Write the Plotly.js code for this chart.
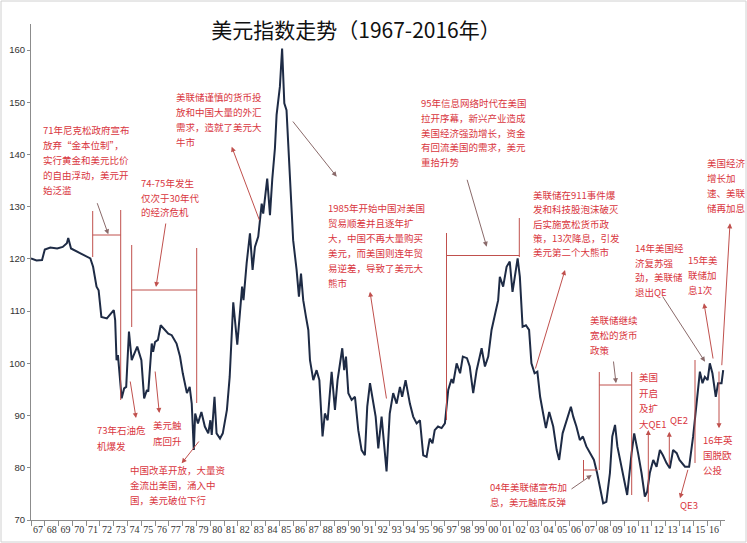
<!DOCTYPE html>
<html>
<head>
<meta charset="utf-8">
<script src="https://cdn.plot.ly/plotly-3.0.1.min.js"></script>
<style>html,body{margin:0;padding:0;background:#fff;}#chart{width:747px;height:543px;}</style>
</head>
<body>
<div id="chart"></div>
<script>
// ---- data ----
const years = [1967.0,1967.4,1967.8,1968.0,1968.4,1968.9,1969.3,1969.6,1969.7,1969.9,1970.55,1971.3,1971.5,1971.75,1971.9,1972.1,1972.5,1973.0,1973.1,1973.2,1973.3,1973.57,1973.75,1973.9,1974.1,1974.3,1974.4,1974.7,1975.0,1975.2,1975.4,1975.5,1975.75,1975.85,1975.99,1976.2,1976.4,1976.7,1976.95,1977.2,1977.55,1977.8,1978.0,1978.3,1978.5,1978.65,1978.8,1978.9,1979.1,1979.35,1979.6,1979.85,1980.0,1980.1,1980.3,1980.45,1980.7,1980.9,1981.2,1981.4,1981.66,1981.95,1982.3,1982.4,1982.63,1982.87,1983.06,1983.23,1983.47,1983.72,1983.83,1984.12,1984.32,1984.49,1984.68,1984.8,1985.04,1985.2,1985.36,1985.52,1985.72,1986.0,1986.25,1986.42,1986.57,1986.73,1986.93,1987.1,1987.22,1987.46,1987.7,1987.9,1988.13,1988.3,1988.5,1988.79,1989.03,1989.22,1989.56,1989.7,1989.83,1990.0,1990.24,1990.48,1990.72,1990.96,1991.2,1991.37,1991.57,1991.76,1991.98,1992.17,1992.41,1992.77,1993.0,1993.25,1993.5,1993.74,1993.9,1994.15,1994.46,1994.7,1994.95,1995.19,1995.43,1995.67,1995.9,1996.1,1996.26,1996.5,1996.76,1997.0,1997.24,1997.48,1997.6,1997.85,1998.1,1998.3,1998.6,1998.8,1999.05,1999.3,1999.66,1999.9,2000.14,2000.38,2000.6,2000.86,2000.98,2001.22,2001.47,2001.7,2001.9,2002.07,2002.27,2002.43,2002.63,2002.87,2003.1,2003.27,2003.5,2003.7,2003.9,2004.12,2004.32,2004.56,2004.85,2005.1,2005.28,2005.53,2005.77,2005.94,2006.13,2006.3,2006.53,2006.78,2007.0,2007.25,2007.55,2007.8,2008.03,2008.23,2008.47,2008.7,2008.96,2009.13,2009.33,2009.5,2009.8,2010.04,2010.21,2010.53,2010.72,2011.0,2011.25,2011.49,2011.66,2011.85,2012.1,2012.34,2012.58,2012.8,2013.06,2013.3,2013.54,2013.8,2014.0,2014.4,2014.7,2014.99,2015.24,2015.48,2015.67,2015.84,2016.04,2016.2,2016.39,2016.63,2016.8,2017.05,2017.17];
const dxy = [120.1,119.7,119.8,121.8,122.2,122.0,122.3,123.0,124.0,122.0,121.1,120.1,118.5,114.7,114.0,108.9,108.6,110.2,108.3,100.6,101.6,93.3,95.2,95.5,106.1,100.6,101.3,103.2,100.6,93.3,94.9,94.6,103.8,102.2,104.1,104.5,107.3,106.4,105.7,105.4,103.8,101.3,98.1,94.3,95.5,92.3,83.4,90.4,88.5,90.7,87.9,86.6,89.1,86.3,93.6,86.6,85.6,86.6,91.1,97.4,111.7,103.6,114.7,112.1,119.2,124.9,117.9,122.3,124.3,130.6,128.7,135.4,128.4,135.4,141.2,147.6,153.0,160.3,149.8,148.5,137.7,123.6,117.9,112.8,117.2,112.1,108.9,106.4,100.6,96.8,98.7,96.8,86.0,90.4,89.1,98.4,91.1,96.8,102.9,98.7,101.3,94.3,93.0,93.6,87.2,83.4,82.4,91.7,96.2,93.0,89.8,83.7,89.8,79.3,90.4,94.3,92.3,95.5,93.6,96.8,92.3,89.8,88.5,89.1,82.4,82.1,85.6,84.7,87.2,87.9,87.6,88.5,94.9,97.0,96.2,100.0,98.1,101.3,101.0,99.4,94.3,98.7,102.9,99.4,101.3,106.4,108.9,112.1,116.6,114.7,118.5,119.5,113.7,116.6,120.1,116.6,107.0,107.3,106.4,100.0,98.1,98.4,93.6,90.4,87.6,90.7,87.9,83.4,81.5,86.6,88.5,89.8,91.7,89.8,87.9,85.3,86.0,84.1,82.8,81.5,79.0,76.4,73.2,73.5,79.0,86.0,88.2,84.1,80.2,76.4,74.8,82.8,86.6,82.8,79.0,74.5,75.4,79.0,81.5,80.2,83.4,82.4,80.9,79.9,83.4,82.8,81.5,80.2,80.2,86.0,92.3,98.4,96.2,97.4,96.8,100.0,98.1,93.6,96.2,96.2,98.7];
const yearLabels = ['67','68','69','70','71','72','73','74','75','76','77','78','79','80','81','82','83','84','85','86','87','88','89','90','91','92','93','94','95','96','97','98','99','00','01','02','03','04','05','06','07','08','09','10','11','12','13','14','15','16'];
const yTicks = [70,80,90,100,110,120,130,140,150,160];

// ---- annotation texts ----
const notes = [
  {x:41, y:130, s:15, lines:['71年尼克松政府宣布','放弃“金本位制”，','实行黄金和美元比价','的自由浮动，美元开','始泛滥']},
  {x:139, y:183, s:14.5, lines:['74-75年发生','仅次于30年代','的经济危机']},
  {x:174, y:97, s:15, lines:['美联储谨慎的货币投','放和中国大量的外汇','需求，造就了美元大','牛市']},
  {x:326, y:208, s:15, lines:['1985年开始中国对美国','贸易顺差并且逐年扩','大，中国不再大量购买','美元，而美国则连年贸','易逆差，导致了美元大','熊市']},
  {x:419, y:103, s:14.8, lines:['95年信息网络时代在美国','拉开序幕，新兴产业造成','美国经济强劲增长，资金','有回流美国的需求，美元','重拾升势']},
  {x:531, y:195, s:14.3, lines:['美联储在911事件爆','发和科技股泡沫破灭','后实施宽松货币政','策，13次降息，引发','美元第二个大熊市']},
  {x:633, y:248, s:14.5, lines:['14年美国经','济复苏强','劲，美联储','退出QE']},
  {x:686, y:260, s:15, lines:['15年美','联储加','息1次']},
  {x:705, y:163, s:15, lines:['美国经济','增长加','速、美联','储再加息']},
  {x:588, y:320, s:15, lines:['美联储继续','宽松的货币','政策']},
  {x:637, y:377, s:15.5, lines:['美国','开启','及扩','大QE1']},
  {x:668, y:420, s:15, lines:['QE2']},
  {x:678, y:505, s:15, lines:['QE3']},
  {x:701, y:440, s:15, lines:['16年英','国脱欧','公投']},
  {x:488, y:487, s:15, lines:['04年美联储宣布加','息，美元触底反弹']},
  {x:95, y:430, s:16, lines:['73年石油危','机爆发']},
  {x:151, y:425, s:16, lines:['美元触','底回升']},
  {x:128, y:470, s:15, lines:['中国改革开放，大量资','金流出美国，涌入中','国，美元破位下行']}
];

// ---- layout geometry (pixels) ----
const L = 31, R = 725, T = 24, B = 520;
const px = v => (v - L) / (R - L);
const py = v => (B - v) / (B - T);

const RED = '#d9363e', LRED = '#c0504d', GRAY = '#8a6a6a';

const annotations = [];
notes.forEach(n => n.lines.forEach((t, i) => {
  annotations.push({xref:'paper', yref:'paper', x:px(n.x), y:py(n.y + i*n.s), text:t,
    showarrow:false, xanchor:'left', yanchor:'middle',
    font:{family:'Noto Sans CJK SC, sans-serif', size:9.5, color:RED}});
}));

const arrows = [
  [96.7,201.7,108.3,234.3,GRAY],[166,222,156,287,LRED],[130,380,136,418,LRED],[155,370,159.3,413,LRED],
  [200,440,181.7,463.3,LRED],[260,221.7,231.7,146.7,LRED],[291.7,120,336.7,176.7,GRAY],[386.7,400,370,291.7,LRED],
  [466.7,178.3,486.7,246.7,GRAY],[535,370,565,270,LRED],[613.3,360,616,383.3,GRAY],[648.3,503.3,648.3,430,LRED],
  [669.3,466.7,669.3,431.7,LRED],[688.3,468.3,680,498.3,LRED],[719,370,719,428.3,LRED],[661.7,295,705,361.7,GRAY],
  [713.3,360,704,303.3,LRED],[721.7,366.7,730,223.3,LRED],[570,490,591.7,475,GRAY]
];
arrows.forEach(a => annotations.push({xref:'paper', yref:'paper', x:px(a[2]), y:py(a[3]), ax:a[0]-a[2], ay:a[1]-a[3],
  text:'', showarrow:true, arrowhead:2, arrowsize:1, arrowwidth:1, arrowcolor:a[4]}));

const segs = [
  [92.7,211,92.7,257],[120.7,210,120.7,400],[92.7,235,120.7,235],
  [131.7,245,131.7,327],[196.7,248,196.7,403],[131.7,290,196.7,290],
  [446.5,233,446.5,420],[519.3,218,519.3,257],[446.5,255.5,519.3,255.5],
  [599.3,372,599.3,470],[631.7,372,631.7,495],[599.3,385,631.7,385],
  [583.5,460,583.5,480],[583.5,470,597,470],
  [695,360,695,463]
];
const shapes = segs.map(s => ({type:'line', xref:'paper', yref:'paper', x0:px(s[0]), y0:py(s[1]), x1:px(s[2]), y1:py(s[3]),
  line:{color:LRED, width:1}}));
shapes.push({type:'rect', xref:'paper', yref:'paper', x0:px(1), y0:py(542), x1:px(746), y1:py(1), line:{color:'#d0d0d0', width:1}, layer:'below'});

const trace = {x:years, y:dxy, type:'scatter', mode:'lines', line:{color:'#1e2b45', width:2}, hoverinfo:'skip'};

const layout = {
  width:747, height:543, autosize:false,
  margin:{l:L, r:747-R, t:T, b:543-B, pad:0},
  paper_bgcolor:'#fff', plot_bgcolor:'#fff', showlegend:false,
  title:{text:'美元指数走势（1967-2016年）', xref:'container', yref:'container', x:356/747, y:1-31/543,
    xanchor:'center', yanchor:'middle', font:{family:'Noto Sans CJK SC, sans-serif', size:21, color:'#111'}},
  xaxis:{range:[1967, 2017.3], showgrid:false, zeroline:false, showline:true, linecolor:'#8c8c8c', linewidth:1,
    tickmode:'array', tickvals:yearLabels.map((t,i)=>1967.5+i), ticktext:yearLabels, ticks:'',
    tickfont:{family:'Liberation Serif, serif', size:10, color:'#333'},
    minor:{tickmode:'linear', tick0:1967, dtick:1, ticks:'outside', ticklen:5, tickcolor:'#8c8c8c', tickwidth:1, showgrid:false}},
  yaxis:{range:[70, 165], showgrid:false, zeroline:false, showline:true, linecolor:'#8c8c8c', linewidth:1,
    tickmode:'array', tickvals:yTicks, ticks:'outside', ticklen:3, tickcolor:'#8c8c8c',
    tickfont:{family:'Liberation Sans, Arial, sans-serif', size:9.5, color:'#333'}},
  annotations:annotations, shapes:shapes
};

Plotly.newPlot('chart', [trace], layout, {staticPlot:true, displayModeBar:false});
</script>
</body>
</html>
